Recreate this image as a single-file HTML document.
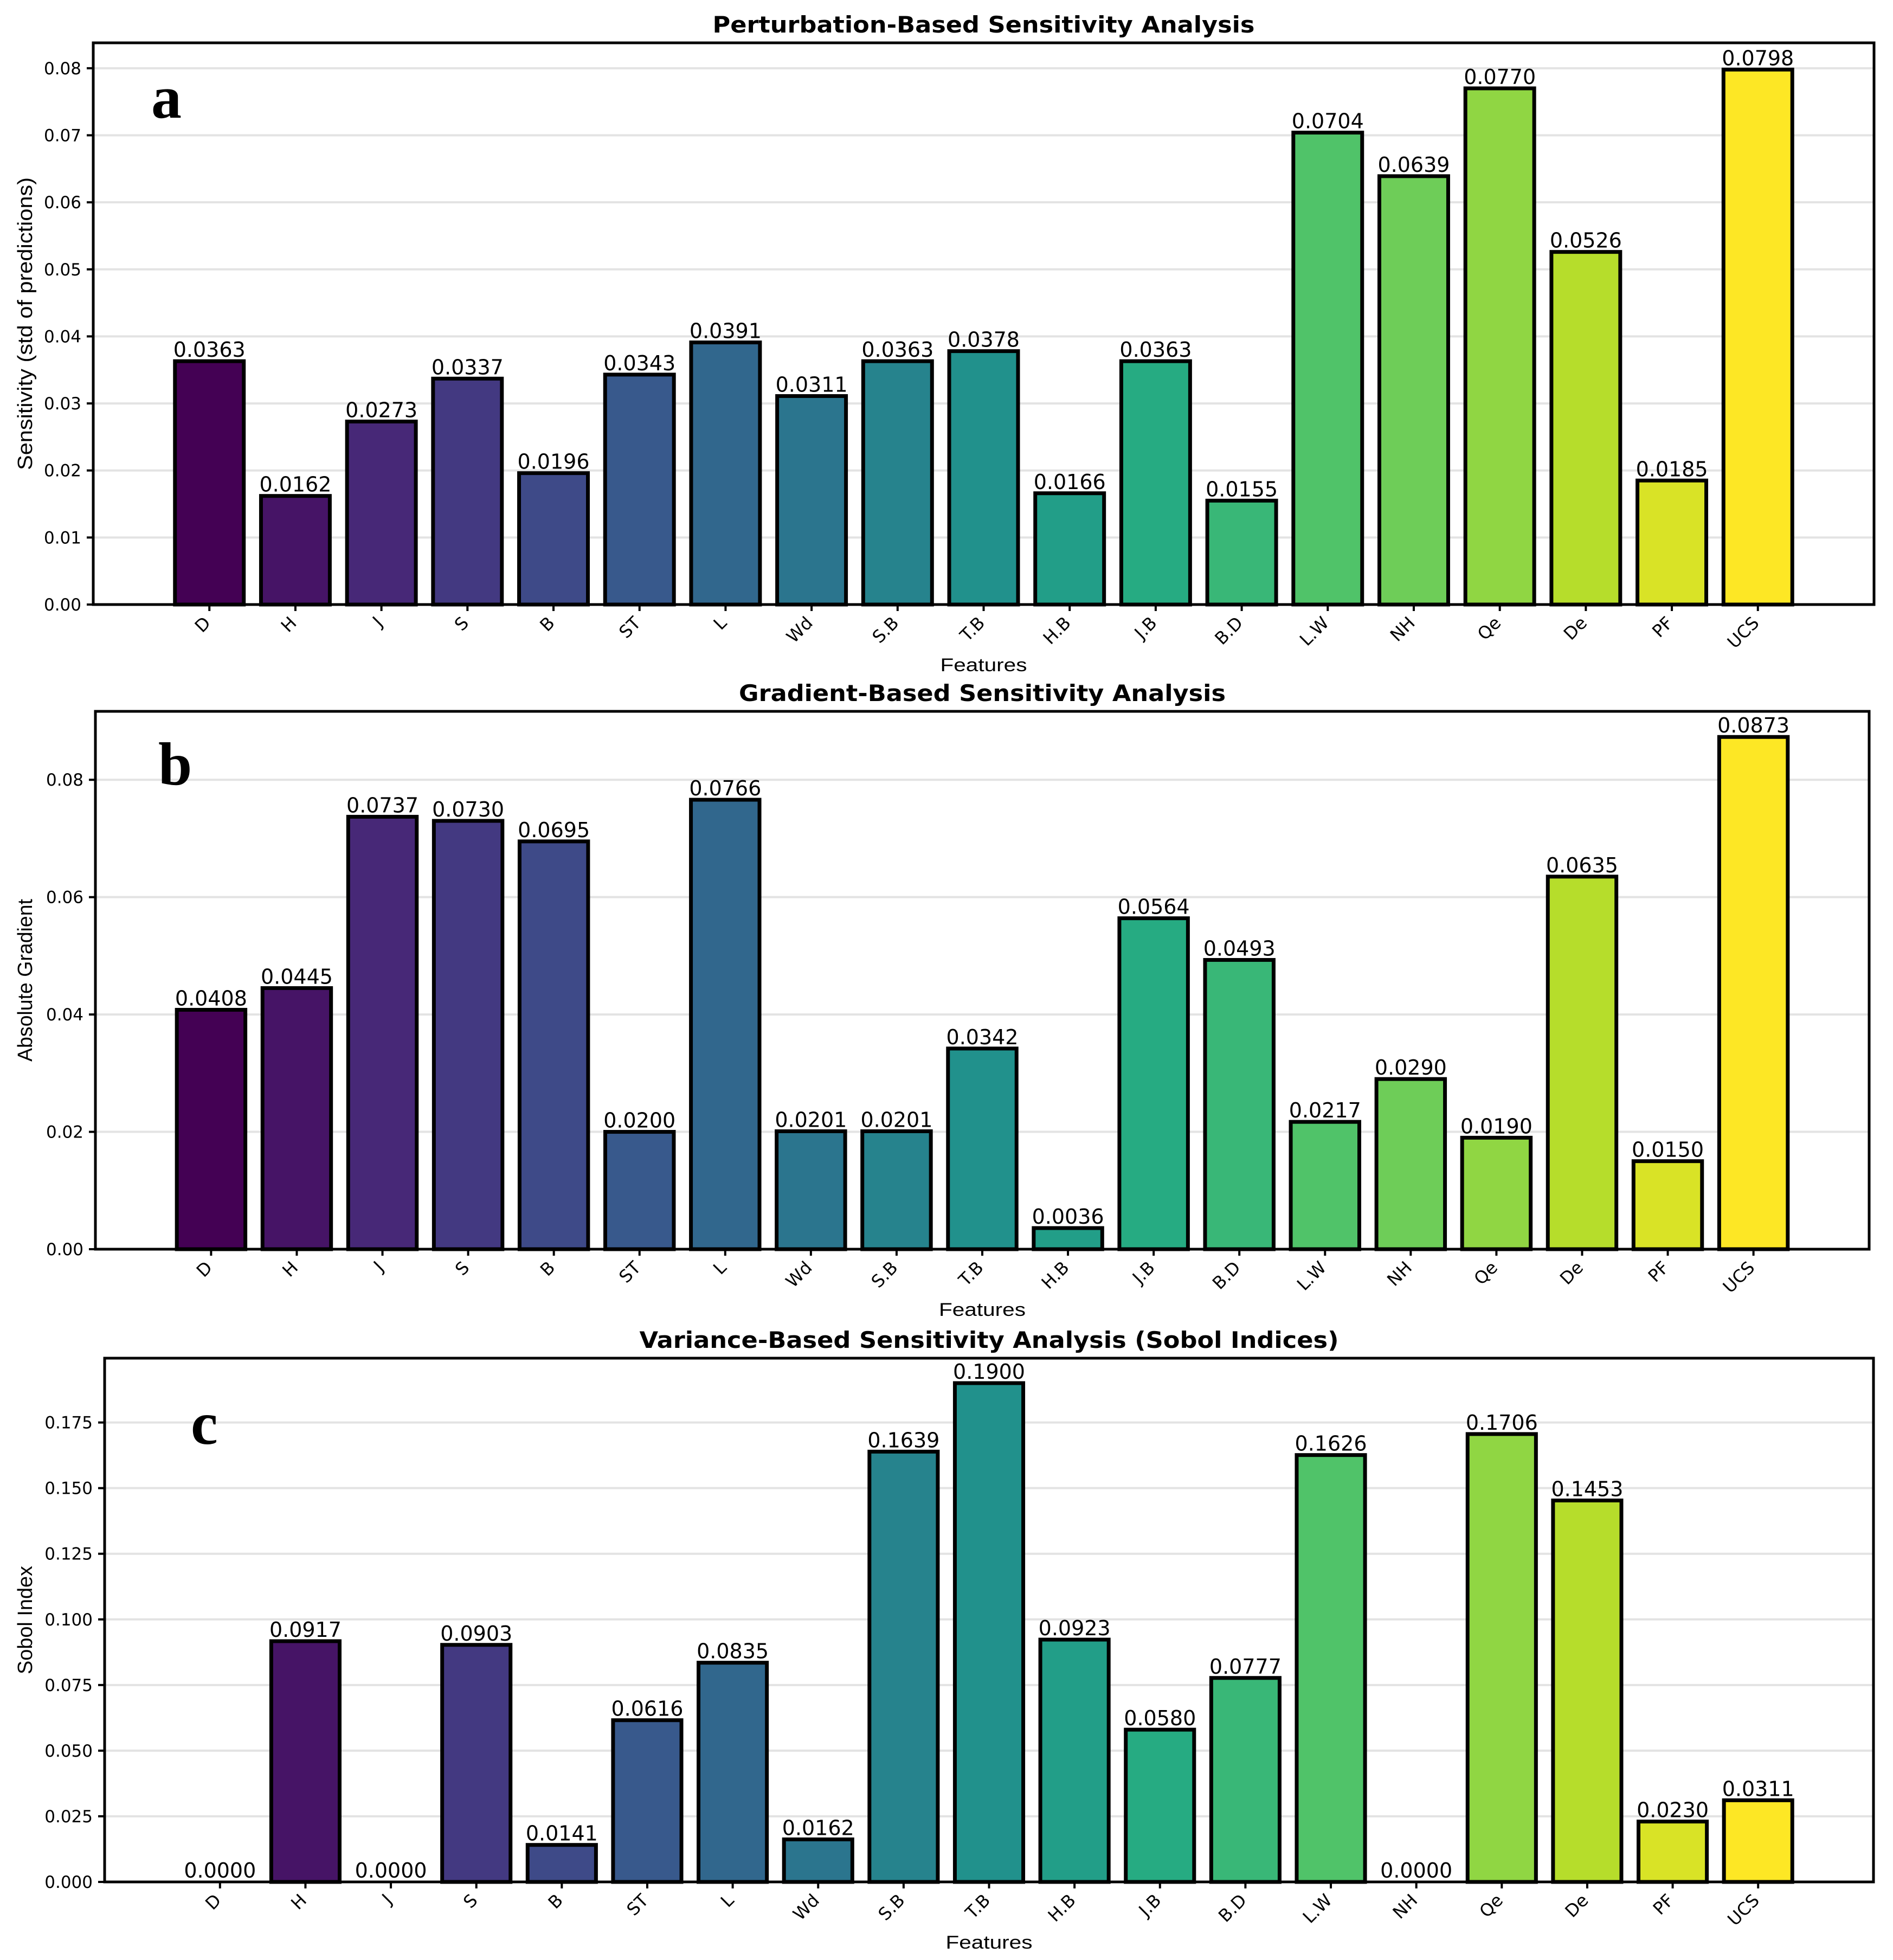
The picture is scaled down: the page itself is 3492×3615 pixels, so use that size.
<!DOCTYPE html>
<html><head><meta charset="utf-8">
<style>
html,body{margin:0;padding:0;background:#fff;}
svg{display:block;}
</style></head>
<body>
<svg id="fig" xmlns="http://www.w3.org/2000/svg" width="3492" height="3615" viewBox="0 0 3492 3615">
<rect x="0" y="0" width="3492" height="3615" fill="#fff"/>
</svg>
<script>
const categories = ["D","H","J","S","B","ST","L","Wd","S.B","T.B","H.B","J.B","B.D","L.W","NH","Qe","De","PF","UCS"];
const perturbationValues = [0.0363,0.0162,0.0273,0.0337,0.0196,0.0343,0.0391,0.0311,0.0363,0.0378,0.0166,0.0363,0.0155,0.0704,0.0639,0.0770,0.0526,0.0185,0.0798];
const gradientValues = [0.0408,0.0445,0.0737,0.0730,0.0695,0.0200,0.0766,0.0201,0.0201,0.0342,0.0036,0.0564,0.0493,0.0217,0.0290,0.0190,0.0635,0.0150,0.0873];
const sobolValues = [0.0000,0.0917,0.0000,0.0903,0.0141,0.0616,0.0835,0.0162,0.1639,0.1900,0.0923,0.0580,0.0777,0.1626,0.0000,0.1706,0.1453,0.0230,0.0311];
const perturbationTicks = [0,0.01,0.02,0.03,0.04,0.05,0.06,0.07,0.08];
const gradientTicks = [0,0.02,0.04,0.06,0.08];
const sobolTicks = [0,0.025,0.05,0.075,0.1,0.125,0.15,0.175];

const NS = "http://www.w3.org/2000/svg";
const svg = document.getElementById('fig');
const vir = ["#440154","#482475","#414487","#355f8d","#2a788e","#21918c","#22a884","#44bf70","#7ad151","#bddf26","#fde725"];
function hex(h){return [1,3,5].map(i=>parseInt(h.substr(i,2),16));}
function viridis(t){
  const p=t*10, i=Math.min(9,Math.floor(p)), f=p-i;
  const a=hex(vir[i]), b=hex(vir[i+1]);
  return "rgb("+a.map((v,k)=>Math.round(v+(b[k]-v)*f)).join(",")+")";
}
function mk(tag, attrs, parent){
  const e=document.createElementNS(NS,tag);
  for(const k in attrs) e.setAttribute(k,attrs[k]);
  (parent||svg).appendChild(e); return e;
}

const panels = [
 {key:"a", title:"Perturbation-Based Sensitivity Analysis", titleLen:1000, ylabel:"Sensitivity (std of predictions)", ylabelLen:540,
  values:perturbationValues, ticks:perturbationTicks, dec:2, left:172, right:3457, top:79, bottom:1115, letterX:279, letterY:217},
 {key:"b", title:"Gradient-Based Sensitivity Analysis", titleLen:898, ylabel:"Absolute Gradient", ylabelLen:300,
  values:gradientValues, ticks:gradientTicks, dec:2, left:176, right:3448, top:1312, bottom:2304, letterX:292, letterY:1447},
 {key:"c", title:"Variance-Based Sensitivity Analysis (Sobol Indices)", titleLen:1290, ylabel:"Sobol Index", ylabelLen:200,
  values:sobolValues, ticks:sobolTicks, dec:3, left:193, right:3456, top:2505, bottom:3471, letterX:352, letterY:2663}
];

panels.forEach(P=>{
  const g = mk('g',{});
  
  
  const n = categories.length;
  const ymax = Math.max(...P.values)*1.05;
  const xmin=-1.35, xmaxv=n-1+1.35;
  const xs = v => P.left + (v-xmin)/(xmaxv-xmin)*(P.right-P.left);
  const ys = v => P.bottom - v/ymax*(P.bottom-P.top);
  P.ticks.forEach(t=>{
    const l=mk('line',{x1:P.left,x2:P.right,y1:ys(t),y2:ys(t),stroke:"#e3e3e3","stroke-width":4},g);
    
    
  });
  P.values.forEach((v,i)=>{
    const x0=xs(i-0.4), x1=xs(i+0.4), y=ys(v);
    const r=mk('rect',{x:x0,y:y,width:x1-x0,height:P.bottom-y,fill:viridis(i/(n-1)),stroke:"#000","stroke-width":7},g);
    
    
    const t=mk('text',{x:xs(i),y:y-8,"text-anchor":"middle","font-family":"DejaVu Sans, Liberation Sans, sans-serif","font-size":38,fill:"#000"},g);
    t.textContent=v.toFixed(4);
    
    
  });
  const fr=mk('rect',{x:P.left,y:P.top,width:P.right-P.left,height:P.bottom-P.top,fill:"none",stroke:"#000","stroke-width":5},g);
  
  
  P.ticks.forEach(t=>{
    mk('line',{x1:P.left-12,x2:P.left,y1:ys(t),y2:ys(t),stroke:"#000","stroke-width":4},g);
    const tx=mk('text',{x:P.left-22,y:ys(t)+11,"text-anchor":"end","font-family":"DejaVu Sans, Liberation Sans, sans-serif","font-size":31,fill:"#000"},g);
    tx.textContent=t.toFixed(P.dec);
    
    
  });
  categories.forEach((c,i)=>{
    const x=xs(i);
    mk('line',{x1:x,x2:x,y1:P.bottom,y2:P.bottom+12,stroke:"#000","stroke-width":4},g);
    const tx=mk('text',{transform:"translate("+(x+4)+","+(P.bottom+36)+") rotate(-45)","text-anchor":"end","font-family":"DejaVu Sans, Liberation Sans, sans-serif","font-size":32,fill:"#000"},g);
    tx.textContent=c;
    
    
  });
  const cx=(P.left+P.right)/2;
  const ti=mk('text',{x:cx,y:P.top-19,"text-anchor":"middle","font-family":"DejaVu Sans, Liberation Sans, sans-serif","font-size":42,"font-weight":"bold",textLength:P.titleLen,lengthAdjust:"spacingAndGlyphs",fill:"#000"},g);
  ti.textContent=P.title;
  
  
  const xl=mk('text',{x:cx,y:P.bottom+123,"text-anchor":"middle","font-family":"Liberation Sans, sans-serif","font-size":34,textLength:160,lengthAdjust:"spacingAndGlyphs",fill:"#000"},g);
  xl.textContent="Features";
  
  
  const ym=(P.top+P.bottom)/2;
  const yl=mk('text',{transform:"translate(59,"+ym+") rotate(-90)","text-anchor":"middle","font-family":"Liberation Sans, sans-serif","font-size":38,textLength:P.ylabelLen,lengthAdjust:"spacingAndGlyphs",fill:"#000"},g);
  yl.textContent=P.ylabel;
  
  
  const le=mk('text',{x:P.letterX,y:P.letterY,"font-family":"Liberation Serif, serif","font-size":112,"font-weight":"bold",fill:"#000"},g);
  le.textContent=P.key;
  
  
});
</script>
</body></html>
